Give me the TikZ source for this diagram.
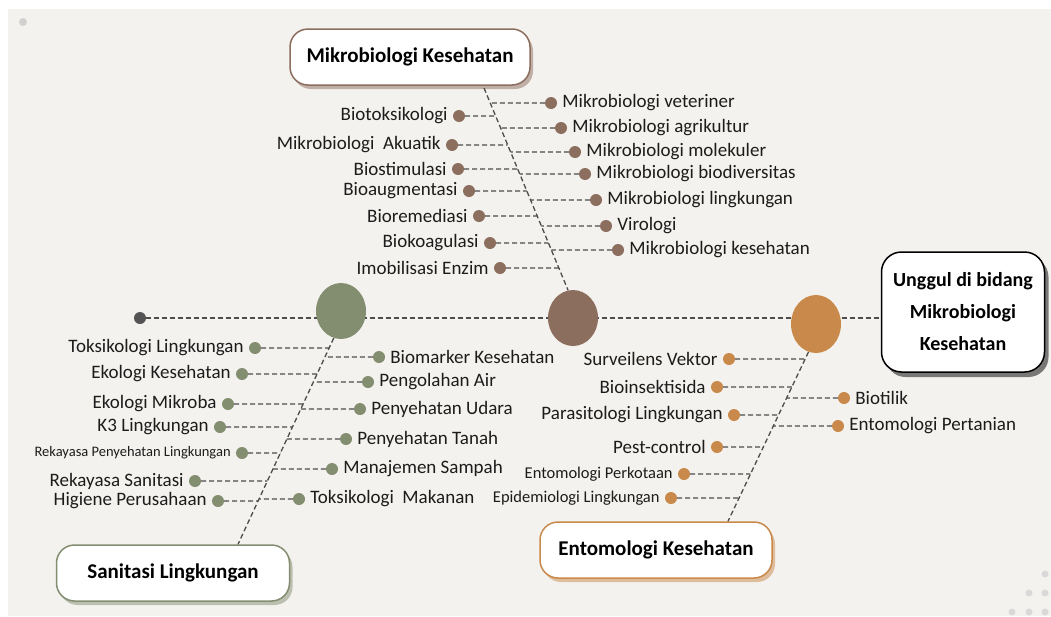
\documentclass[tikz,border=0pt]{standalone}
\usepackage{fontspec}
\setmainfont{Carlito}
\usetikzlibrary{shadows, shapes.geometric}

\definecolor{mbrown}{HTML}{8C6E5F}
\definecolor{mgreen}{HTML}{838E71}
\definecolor{morange}{HTML}{C8894B}
\definecolor{bgpaper}{HTML}{F4F2EE}
\definecolor{spinegray}{HTML}{4D4D4D}
\definecolor{txtgray}{HTML}{1C1C1C}

\begin{document}
\begin{tikzpicture}[
        x=1pt, y=-1pt,
        link/.style={draw=spinegray, line width=1.3pt, dash pattern=on 5pt off 3pt},
        bdot/.style={circle, fill=mbrown, inner sep=0pt, minimum size=12pt},
        gdot/.style={bdot, fill=mgreen},
        odot/.style={bdot, fill=morange},
        hub/.style={ellipse, inner sep=0pt, minimum width=50pt, minimum height=56pt},
        every label/.style={text=txtgray, font=\fontsize{19}{22}\selectfont, inner sep=0pt},
        label distance=5pt,
        tinylbl/.style={font=\fontsize{14.5}{16}\selectfont},
        midlbl/.style={font=\fontsize{16.5}{18}\selectfont},
        topic/.style={rounded corners=18pt, fill=white, line width=1.5pt, minimum height=56pt,
            font=\bfseries\fontsize{21}{24}\selectfont},
    ]
        % Paper
        \fill[white] (0,0) rectangle (1051,616);
        \fill[bgpaper] (8,9) rectangle (1051,616);
        \useasboundingbox (0,0) rectangle (1051,616);
        \fill[black!18] (23,22) circle (4);
        \foreach \p in {(1045,574),(1029,593),(1045,593),(1012,612),(1029,612),(1045,612)}
            \fill[black!15] \p circle (3.5);

        % Boxes
        \node[topic, draw=mbrown, minimum width=240pt,
            drop shadow={shadow xshift=3pt, shadow yshift=-4pt, fill=mbrown}] (mbox) at (410,57) {Mikrobiologi Kesehatan};
        \node[topic, draw=mgreen, minimum width=233pt,
            drop shadow={shadow xshift=3pt, shadow yshift=-4pt, fill=mgreen}] (sbox) at (173,573) {Sanitasi Lingkungan};
        \node[topic, draw=morange, minimum width=232pt,
            drop shadow={shadow xshift=3pt, shadow yshift=-4pt, fill=morange}] (ebox) at (656,550) {Entomologi Kesehatan};
        \node[topic, draw=black, align=center, minimum width=163pt, minimum height=120pt, rounded corners=20pt,
            font=\bfseries\fontsize{20}{32}\selectfont,
            drop shadow={shadow xshift=4pt, shadow yshift=-5pt, fill=black}] (ubox) at (963,312) {Unggul di bidang\\Mikrobiologi\\Kesehatan};

        % Main line and hubs
        \node[circle, fill=black!67, inner sep=0pt, minimum size=12pt] (dark) at (140,318) {};
        \draw[link] (dark) -- (dark -| ubox.west);
        \node[hub, fill=mgreen] (gell) at (341,311) {};
        \node[hub, fill=mbrown] (bell) at (573,318) {};
        \node[hub, fill=morange, minimum height=58pt] (oell) at (816,324) {};

        % Spines
        \coordinate (mtop) at (484,88);
        \coordinate (sbot) at ([xshift=65pt]sbox.north);
        \coordinate (ebot) at ([xshift=72pt]ebox.north);
        \draw[link] (mtop) -- (bell.100);
        \draw[link] (gell.255) -- (sbot);
        \draw[link] (oell.255) -- (ebot);

        % Mikrobiologi Kesehatan
        \node[bdot, label=left:Biotoksikologi] (b1) at (459,116) {};
        \node[bdot, label=left:Mikrobiologi\ \ Akuatik] (b2) at (452,145) {};
        \node[bdot, label=left:Biostimulasi] (b3) at (458,169) {};
        \node[bdot, label=left:Bioaugmentasi] (b4) at (469,191) {};
        \node[bdot, label=left:Bioremediasi] (b5) at (479,216) {};
        \node[bdot, label=left:Biokoagulasi] (b6) at (490,243) {};
        \node[bdot, label=left:Imobilisasi Enzim] (b7) at (500,268) {};
        \node[bdot, label=right:Mikrobiologi veteriner] (b8) at (551,103) {};
        \node[bdot, label=right:Mikrobiologi agrikultur] (b9) at (561,128) {};
        \node[bdot, label=right:Mikrobiologi molekuler] (b10) at (575,152) {};
        \node[bdot, label=right:Mikrobiologi biodiversitas] (b11) at (585,174) {};
        \node[bdot, label=right:Mikrobiologi lingkungan] (b12) at (596,200) {};
        \node[bdot, label=right:Virologi] (b13) at (606,226) {};
        \node[bdot, label=right:Mikrobiologi kesehatan] (b14) at (618,250) {};
        \foreach \i in {1,...,14}
            \draw[link] (b\i) -- (intersection cs: first line={(mtop)--(bell.100)}, second line={(b\i)--([xshift=10pt]b\i)});

        % Sanitasi Lingkungan
        \node[gdot, label=left:Toksikologi Lingkungan] (g1) at (255,348) {};
        \node[gdot, label=left:Ekologi Kesehatan] (g2) at (242,374) {};
        \node[gdot, label=left:Ekologi Mikroba] (g3) at (228,404) {};
        \node[gdot, label=left:K3 Lingkungan] (g4) at (220,427) {};
        \node[gdot, label={[tinylbl]left:Rekayasa Penyehatan Lingkungan}] (g5) at (242,453) {};
        \node[gdot, label=left:Rekayasa Sanitasi] (g6) at (195,481) {};
        \node[gdot, label=left:Higiene Perusahaan] (g7) at (218,501) {};
        \node[gdot, label=right:Biomarker Kesehatan] (g8) at (379,357) {};
        \node[gdot, label=right:Pengolahan Air] (g9) at (368,382) {};
        \node[gdot, label=right:Penyehatan Udara] (g10) at (360,409) {};
        \node[gdot, label=right:Penyehatan Tanah] (g11) at (346,439) {};
        \node[gdot, label=right:Manajemen Sampah] (g12) at (332,469) {};
        \node[gdot, label=right:Toksikologi\ \ Makanan] (g13) at (299,499) {};
        \foreach \i in {1,...,13}
            \draw[link] (g\i) -- (intersection cs: first line={(gell.255)--(sbot)}, second line={(g\i)--([xshift=10pt]g\i)});

        % Entomologi Kesehatan
        \node[odot, label=left:Surveilens Vektor] (o1) at (729,359) {};
        \node[odot, label=left:Bioinsektisida] (o2) at (717,387) {};
        \node[odot, label=left:Parasitologi Lingkungan] (o3) at (734,415) {};
        \node[odot, label=left:Pest-control] (o4) at (717,447) {};
        \node[odot, label={[midlbl]left:Entomologi Perkotaan}] (o5) at (684,474) {};
        \node[odot, label={[midlbl]left:Epidemiologi Lingkungan}] (o6) at (671,498) {};
        \node[odot, label=right:Biotilik] (o7) at (844,398) {};
        \node[odot, label=right:Entomologi Pertanian] (o8) at (838,426) {};
        \foreach \i in {1,...,8}
            \draw[link] (o\i) -- (intersection cs: first line={(oell.255)--(ebot)}, second line={(o\i)--([xshift=10pt]o\i)});
    \end{tikzpicture}
\end{document}
